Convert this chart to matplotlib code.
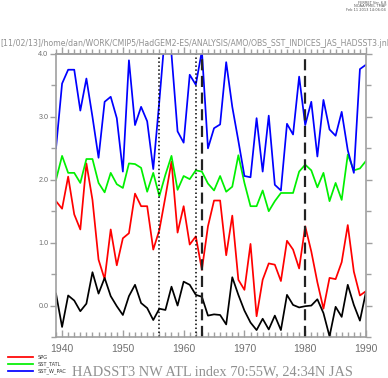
import matplotlib
matplotlib.use("Agg")
import matplotlib.pyplot as plt
from matplotlib.ticker import MultipleLocator, FixedLocator

years = list(range(1939, 1991))

spg = [1.66, 1.54, 2.05, 1.45, 1.21, 2.26, 1.68, 0.73, 0.42, 1.21,
       0.64, 1.07, 1.15, 1.78, 1.58, 1.58, 0.89, 1.20, 1.73, 2.29,
       1.16, 1.58, 0.97, 1.10, 0.57, 1.26, 1.67, 1.67, 0.80, 1.43,
       0.41, 0.25, 0.98, -0.17, 0.41, 0.67, 0.65, 0.39, 1.03, 0.89,
       0.59, 1.26, 0.86, 0.37, -0.05, 0.44, 0.42, 0.69, 1.28, 0.54,
       0.16, 0.23]

sst_tatl = [2.00, 2.38, 2.11, 2.11, 1.95, 2.33, 2.33, 1.95, 1.80, 2.11,
            1.93, 1.87, 2.26, 2.25, 2.19, 1.81, 2.11, 1.74, 2.08, 2.38,
            1.84, 2.06, 2.01, 2.15, 2.13, 1.94, 1.83, 2.06, 1.81, 1.89,
            2.39, 1.95, 1.58, 1.58, 1.83, 1.50, 1.66, 1.79, 1.79, 1.79,
            2.13, 2.24, 2.15, 1.88, 2.11, 1.66, 1.95, 1.68, 2.40, 2.15,
            2.18, 2.30]

sst_w_pac = [2.50, 3.53, 3.75, 3.75, 3.10, 3.61, 3.00, 2.35, 3.24, 3.32,
             2.98, 2.13, 3.90, 2.87, 3.16, 2.93, 2.17, 3.25, 4.40, 4.00,
             2.77, 2.59, 3.67, 3.51, 4.05, 2.50, 2.82, 2.88, 3.87, 3.16,
             2.62, 2.06, 2.04, 2.98, 2.13, 3.02, 1.92, 1.83, 2.89, 2.72,
             3.64, 2.87, 3.24, 2.37, 3.27, 2.80, 2.70, 3.08, 2.47, 2.11,
             3.76, 3.83]

nw_atl = [0.19, -0.34, 0.16, 0.08, -0.09, 0.03, 0.53, 0.19, 0.44, 0.15,
          -0.01, -0.15, 0.15, 0.33, 0.04, -0.04, -0.23, -0.05, -0.07, 0.30,
          0.00, 0.38, 0.33, 0.17, 0.14, -0.16, -0.14, -0.15, -0.30, 0.45,
          0.17, -0.08, -0.27, -0.39, -0.21, -0.38, -0.16, -0.39, 0.17, 0.01,
          -0.03, -0.01, 0.00, 0.10, -0.12, -0.49, -0.02, -0.18, 0.33, 0.01,
          -0.24, 0.22]

dotted_years = [1956, 1962]
dashed_years = [1963, 1980]

x_ticks = [1940, 1950, 1960, 1970, 1980, 1990]
y_ticks = [0.0, 1.0, 2.0, 3.0, 4.0]

header = "[11/02/13]/home/dan/WORK/CMIP5/HadGEM2-ES/ANALYSIS/AMO/OBS_SST_INDICES_JAS_HADSST3.jnl"
stamp = ["FERRET Ver. 6.8", "NOAA/PMEL TMAP", "Feb 11 2013 14:06:04"]
title = "HADSST3 NW ATL index 70:55W, 24:34N JAS"

W, H = 388, 378
fig = plt.figure(figsize=(W / 100, H / 100), dpi=100)
ax = fig.add_axes([56 / W, 1 - 337 / H, 310 / W, 283 / H])

axis_gray = "#a0a0a0"
text_gray = "#707070"
lw = 1.25

l_spg, = ax.plot(years, spg, color="#ff0000", lw=lw, label="SPG")
l_tatl, = ax.plot(years, sst_tatl, color="#00f000", lw=lw, label="SST_TATL")
l_wpac, = ax.plot(years, sst_w_pac, color="#0000ff", lw=lw, label="SST_W_PAC")
ax.plot(years, nw_atl, color="black", lw=lw)

for yr in dotted_years:
    ax.axvline(yr, color="black", lw=1.1, linestyle=(0, (1, 1.6)))
for yr in dashed_years:
    ax.axvline(yr, color="#222222", lw=1.6, linestyle=(0, (5, 2.5)))

ax.set_xlim(1939, 1990)
ax.set_ylim(-0.5, 4.0)

for s in ax.spines.values():
    s.set_color(axis_gray)
    s.set_linewidth(1.2)

ax.xaxis.set_major_locator(FixedLocator(x_ticks))
ax.xaxis.set_minor_locator(MultipleLocator(1))
ax.set_xticklabels([str(t) for t in x_ticks])
ax.yaxis.set_major_locator(FixedLocator(y_ticks))
ax.yaxis.set_minor_locator(MultipleLocator(0.5))
ax.set_yticklabels(["%.1f" % t for t in y_ticks])

ax.tick_params(axis="x", which="both", direction="in", color=axis_gray,
               width=1.0, labelcolor=text_gray, labelsize=7.5, pad=5)
ax.tick_params(axis="x", which="major", length=5)
ax.tick_params(axis="x", which="minor", length=3.5)
ax.tick_params(axis="y", which="both", direction="out", color=axis_gray,
               width=1.0, right=True, labelcolor=text_gray, labelsize=5.2, pad=1.5)
ax.tick_params(axis="y", which="major", length=4)
ax.tick_params(axis="y", which="minor", length=3.5)
for lab in ax.get_xticklabels() + ax.get_yticklabels():
    lab.set_family("Liberation Sans")

top = ax.secondary_xaxis("top")
top.xaxis.set_major_locator(FixedLocator(x_ticks))
top.xaxis.set_minor_locator(MultipleLocator(1))
top.tick_params(axis="x", which="both", direction="out", color=axis_gray,
                width=1.0, labeltop=False)
top.tick_params(axis="x", which="major", length=5)
top.tick_params(axis="x", which="minor", length=3.5)
top.spines["top"].set_color(axis_gray)
top.spines["top"].set_linewidth(1.2)

fig.text(0.5 / W, 1 - 43 / H, header, fontsize=5.6, color="#909090",
         family="DejaVu Sans", ha="left", va="center")
for i, s in enumerate(stamp):
    fig.text(386 / W, 1 - (2.5 + 3.6 * i) / H, s, fontsize=2.6, color="#555555",
             ha="right", va="center")

fig.text(212 / W, 1 - 372 / H, title, fontsize=10.4, color="#909090",
         family="Liberation Serif", ha="center", va="center")

leg = fig.legend(handles=[l_spg, l_tatl, l_wpac], loc="upper left",
                 bbox_to_anchor=(8 / W, 1 - 355 / H), frameon=False,
                 fontsize=3.6, handlelength=5.0, handletextpad=1.0,
                 labelspacing=0.28, borderpad=0, borderaxespad=0)
for t in leg.get_texts():
    t.set_color("#333333")

fig.savefig("out.png", dpi=100)
